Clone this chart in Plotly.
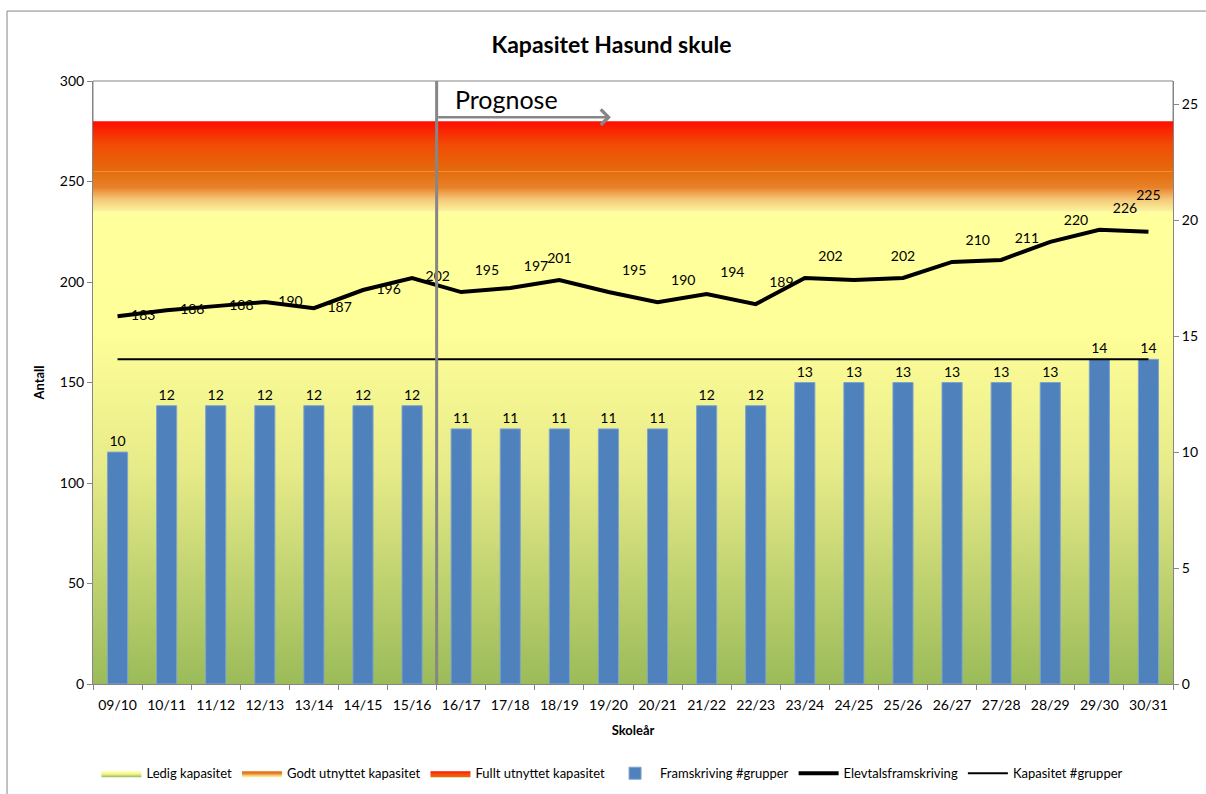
import plotly.graph_objects as go

years = ['09/10', '10/11', '11/12', '12/13', '13/14', '14/15', '15/16', '16/17', '17/18', '18/19',
         '19/20', '20/21', '21/22', '22/23', '23/24', '24/25', '25/26', '26/27', '27/28', '28/29',
         '29/30', '30/31']
groups = [10, 12, 12, 12, 12, 12, 12, 11, 11, 11, 11, 11, 12, 12, 13, 13, 13, 13, 13, 13, 14, 14]
students = [183, 186, 188, 190, 187, 196, 202, 195, 197, 201, 195, 190, 194, 189, 202, 201, 202,
            210, 211, 220, 226, 225]
student_labels = ['183', '186', '188', '190', '187', '196', '202', '195', '197', '201', '195', '190',
                  '194', '189', '202', '', '202', '210', '211', '220', '226', '225']
capacity_groups = [14] * 22

# capacity bands (Antall)
band_x = [0, 1]
ledig_top = [235, 235]
godt_top = [255, 255]
fullt_top = [280, 280]

first_forecast = '16/17'

FONT = 'Lato, Carlito, Calibri, sans-serif'
GREY = '#868686'

label_pos = ['middle right'] * 7 + ['top right'] * 15
label_pos[9] = 'top center'
label_pos[16] = 'top center'
label_pos[21] = 'top center'
label_pad = [20] * 22
label_pad[21] = 44

fig = go.Figure()

fig.add_trace(go.Scatter(x=band_x, y=ledig_top, mode='lines', line=dict(width=0), fill='tozeroy',
                         fillgradient=dict(type='vertical', start=0, stop=ledig_top[0],
                                           colorscale=[[0, '#9BBB59'], [0.45, '#E6EA88'],
                                                       [0.75, '#FFFF99'], [1, '#FFFF9C']]),
                         name='Ledig kapasitet', xaxis='x', yaxis='y', hoverinfo='skip'))
fig.add_trace(go.Scatter(x=band_x, y=godt_top, mode='lines', line=dict(width=0), fill='tonexty',
                         fillgradient=dict(type='vertical', start=ledig_top[0], stop=godt_top[0],
                                           colorscale=[[0, '#FCF59E'], [0.3, '#F5C97A'],
                                                       [0.6, '#E8822A'], [1, '#E46C0A']]),
                         name='Godt utnyttet kapasitet', xaxis='x', yaxis='y', hoverinfo='skip'))
fig.add_trace(go.Scatter(x=band_x, y=fullt_top, mode='lines', line=dict(width=0), fill='tonexty',
                         fillgradient=dict(type='vertical', start=godt_top[0], stop=fullt_top[0],
                                           colorscale=[[0, '#E46C0A'], [0.55, '#F24A05'], [1, '#FF0D00']]),
                         name='Fullt utnyttet kapasitet', xaxis='x', yaxis='y', hoverinfo='skip'))

fig.add_trace(go.Bar(x=years, y=groups, name='Framskriving #grupper', xaxis='x2', yaxis='y2',
                     marker=dict(color='#4F81BD', line=dict(color='#7FA3D0', width=1)),
                     text=groups, textposition='outside', cliponaxis=False,
                     textfont=dict(size=14, color='black')))
fig.add_trace(go.Scatter(x=years, y=students, name='Elevtalsframskriving', xaxis='x2', yaxis='y',
                         mode='lines', line=dict(color='black', width=4)))
fig.add_trace(go.Scatter(x=years, y=students, xaxis='x2', yaxis='y', showlegend=False,
                         mode='markers+text', marker=dict(size=label_pad, opacity=0, color='black'),
                         text=student_labels, textposition=label_pos, cliponaxis=False,
                         textfont=dict(size=14, color='black'), hoverinfo='skip'))
fig.add_trace(go.Scatter(x=years, y=capacity_groups, name='Kapasitet #grupper', xaxis='x2', yaxis='y2',
                         mode='lines', line=dict(color='black', width=2)))

split = years.index(first_forecast) - 0.5
fig.add_shape(type='line', xref='x2', yref='paper', x0=split, x1=split, y0=0, y1=1,
              line=dict(color=GREY, width=3))
fig.add_annotation(xref='x2', yref='y', x=split + 3.55, y=282, ax=split, ay=282,
                   axref='x2', ayref='y', showarrow=True, arrowhead=4, arrowsize=1.2,
                   arrowwidth=2.5, arrowcolor=GREY, text='')
fig.add_annotation(xref='x2', yref='y', x=split, y=291, xanchor='left', xshift=16,
                   text='Prognose', showarrow=False, font=dict(size=25, color='black', family=FONT))

# plot area and chart borders
fig.add_shape(type='rect', xref='paper', yref='paper', x0=0, x1=1, y0=0, y1=1,
              line=dict(color=GREY, width=1), layer='below')
fig.add_shape(type='rect', xref='paper', yref='paper', x0=-0.0796, x1=1.05, y0=-0.22, y1=1.116,
              line=dict(color=GREY, width=1), layer='below')

fig.update_layout(
    width=1206, height=794,
    margin=dict(l=93, r=33, t=81, b=110, autoexpand=False),
    paper_bgcolor='white', plot_bgcolor='white',
    font=dict(family=FONT, size=14, color='black'),
    title=dict(text='<b>Kapasitet Hasund skule</b>', x=0.507, xref='container', y=0.943,
               yanchor='middle', font=dict(size=23, color='black')),
    bargap=0.59,
    showlegend=True,
    legend=dict(orientation='h', x=0.481, xanchor='center', y=-0.148, yanchor='middle',
                font=dict(size=13), traceorder='normal', itemwidth=40),
    xaxis=dict(range=[0, 1], visible=False, fixedrange=True),
    xaxis2=dict(overlaying='x', anchor='y', type='category', range=[-0.5, len(years) - 0.5],
                tickson='boundaries', ticks='outside', ticklabelstandoff=8,
                ticklen=5, tickcolor=GREY, showline=True, linecolor=GREY, showgrid=False,
                tickfont=dict(size=14), tickangle=0, automargin=False,
                title=dict(text='<b>Skoleår</b>', font=dict(size=13), standoff=14)),
    yaxis=dict(range=[0, 300], dtick=50, ticks='outside', ticklen=5, tickcolor=GREY,
               showline=True, linecolor=GREY, showgrid=False, zeroline=False,
               tickfont=dict(size=14), automargin=False,
               title=dict(text='<b>Antall</b>', font=dict(size=13), standoff=12)),
    yaxis2=dict(overlaying='y', side='right', anchor='x', range=[0, 26], tickvals=[0, 5, 10, 15, 20, 25],
                ticks='outside', ticklen=5, tickcolor=GREY, showline=True, linecolor=GREY,
                showgrid=False, zeroline=False, tickfont=dict(size=14), automargin=False),
)

fig.write_html('out.html', config={'displayModeBar': False},
               post_script="document.body.style.margin='0px';")
